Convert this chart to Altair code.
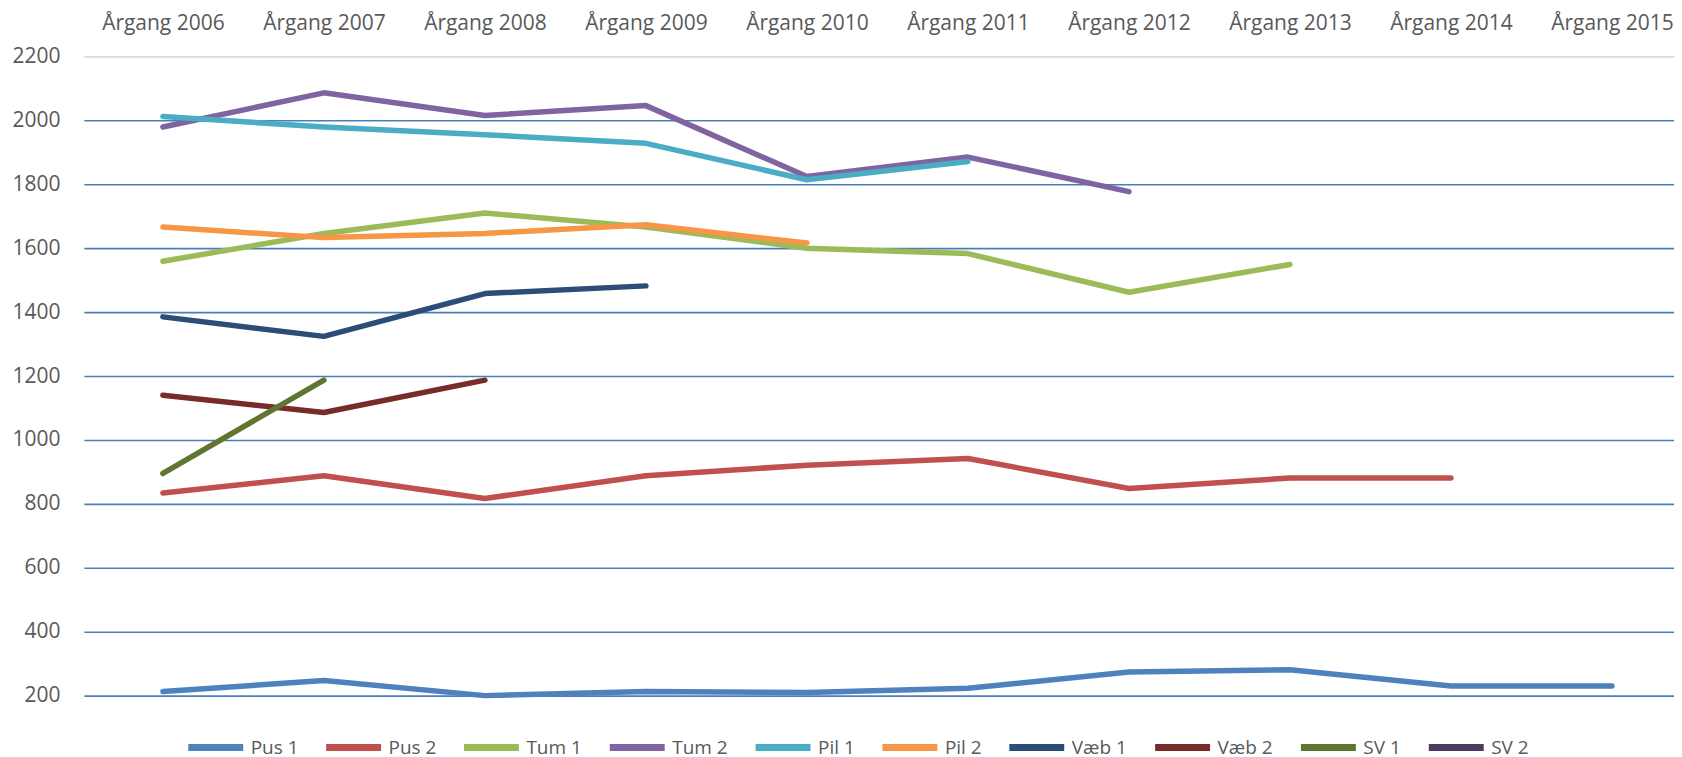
import altair as alt
import pandas as pd

years = ["Årgang 2006", "Årgang 2007", "Årgang 2008", "Årgang 2009", "Årgang 2010",
         "Årgang 2011", "Årgang 2012", "Årgang 2013", "Årgang 2014", "Årgang 2015"]

series_names = ["Pus 1", "Pus 2", "Tum 1", "Tum 2", "Pil 1", "Pil 2", "Væb 1", "Væb 2", "SV 1", "SV 2"]
series_colors = ["#4F81BD", "#C0504D", "#9BBB59", "#8064A2", "#4BACC6", "#F79646",
                 "#2C4D75", "#772C2A", "#5F7530", "#4D3B62"]

pus1 = [213, 247, 200, 213, 210, 223, 274, 281, 230, 230]
pus2 = [834, 888, 817, 888, 921, 942, 848, 881, 881, None]
tum1 = [1559, 1646, 1710, 1666, 1600, 1583, 1462, 1549, None, None]
tum2 = [1979, 2086, 2015, 2046, 1824, 1885, 1777, None, None, None]
pil1 = [2012, 1979, 1955, 1928, 1814, 1871, None, None, None, None]
pil2 = [1666, 1633, 1646, 1673, 1616, None, None, None, None, None]
vaeb1 = [1385, 1324, 1458, 1482, None, None, None, None, None, None]
vaeb2 = [1140, 1086, 1187, None, None, None, None, None, None, None]
sv1 = [895, 1187, None, None, None, None, None, None, None, None]
sv2 = [None] * 10

all_series = [pus1, pus2, tum1, tum2, pil1, pil2, vaeb1, vaeb2, sv1, sv2]

rows = []
for name, vals in zip(series_names, all_series):
    for yr, v in zip(years, vals):
        if v is not None:
            rows.append({"year": yr, "series": name, "value": v})
df = pd.DataFrame(rows)

FONT = "Open Sans"
GRAY = "#595959"

chart = alt.Chart(df).mark_line(strokeWidth=5.5, strokeCap="round", strokeJoin="round").encode(
    x=alt.X("year:N", sort=years,
            scale=alt.Scale(type="point", domain=years, padding=0.438, align=0.56),
            axis=alt.Axis(orient="top", title=None, labelAngle=0, ticks=False,
                          domain=False,
                          labelPadding=23, labelFontSize=21, labelColor=GRAY, labelFont=FONT,
                          grid=False)),
    y=alt.Y("value:Q",
            scale=alt.Scale(domain=[200, 2200], nice=False, zero=False),
            axis=alt.Axis(title=None, values=list(range(200, 2201, 200)), format="d",
                          ticks=False, domain=False,
                          labelPadding=24, labelFontSize=21, labelColor=GRAY, labelFont=FONT,
                          gridColor={"condition": {"test": "datum.value == 2200", "value": "#D9D9D9"},
                                     "value": "#4A7EBB"},
                          gridWidth=1.6)),
    color=alt.Color("series:N",
                    scale=alt.Scale(domain=series_names, range=series_colors),
                    legend=alt.Legend(title=None, orient="none", direction="horizontal",
                                      legendX=101, legendY=661, gridAlign="none",
                                      symbolType="stroke", symbolStrokeWidth=7, symbolSize=3025,
                                      labelFontSize=19, labelColor=GRAY, labelFont=FONT,
                                      columnPadding=13, labelOffset=4)),
    detail="series:N",
).properties(
    width=1592, height=640,
    padding={"left": 3, "top": 4, "right": 0, "bottom": 0},
).configure_view(stroke=None)

chart.save("out.html", embed_options={"renderer": "svg", "actions": False})
